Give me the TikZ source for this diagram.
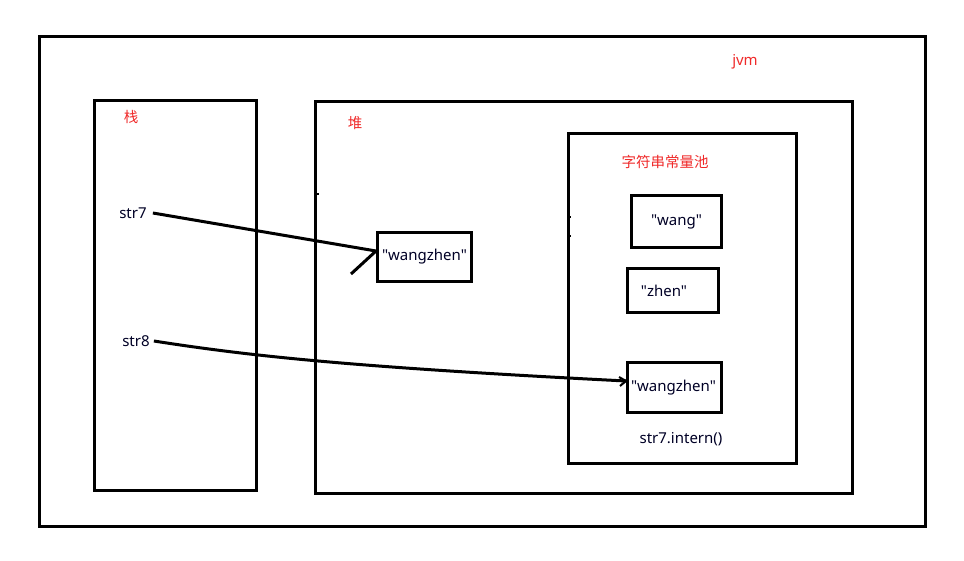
\documentclass[tikz,border=0pt]{standalone}
\usepackage{fontspec}
\setmainfont{Noto Sans CJK SC}
\newfontfamily\latinfont{Noto Sans}
\definecolor{lblred}{HTML}{F02A2A}
\begin{document}
\begin{tikzpicture}[x=1pt,y=-1pt,
  box/.style={draw=black,line width=3pt,fill=none},
  valbox/.style={draw=black,line width=3pt,inner sep=0pt,anchor=north west},
  redlbl/.style={text=lblred,font=\fontsize{14.5}{16}\selectfont,inner sep=0pt},
  txt/.style={text=black!85!blue,font=\latinfont\fontsize{15}{17}\selectfont,inner sep=0pt},
  wire/.style={line width=3pt,draw=black},
  tick/.style={line width=2.5pt,draw=black}]
\useasboundingbox (0,0) rectangle (964,561);
\fill[white] (0,0) rectangle (964,561);
% containers
\draw[box] (39,37) rectangle (925,526);
\node[redlbl,font=\latinfont\fontsize{15}{17}\selectfont] (jvm) at (745,62) {jvm};
\draw[box] (94,101) rectangle (256,490);
\node[redlbl] (stack) at (131,117) {栈};
\draw[box] (315,102) rectangle (852,493);
\node[redlbl] (heap) at (355,123) {堆};
\draw[box] (568,134) rectangle (796,463);
\node[redlbl] (pool) at (665,162) {字符串常量池};
% value boxes
\node[valbox,minimum width=90pt,minimum height=52pt] (wang) at (630,194) {};
\node[txt] at (wang.center) {\symbol{34}wang\symbol{34}};
\node[valbox,minimum width=91pt,minimum height=44pt] (zhen) at (626,267) {};
\node[txt] at ([xshift=-9pt]zhen.center) {\symbol{34}zhen\symbol{34}};
\node[valbox,minimum width=94pt,minimum height=50pt] (pwz) at (626,361) {};
\node[txt] at ([xshift=-1pt]pwz.center) {\symbol{34}wangzhen\symbol{34}};
\node[valbox,minimum width=94pt,minimum height=49pt] (hwz) at (376,231) {};
\node[txt] at (hwz.center) {\symbol{34}wangzhen\symbol{34}};
\node[txt] (intern) at (681,439) {str7.intern()};
% variables
\node[txt] (s7) at (133,213) {str7};
\node[txt] (s8) at (136,341) {str8};
% connectors
\coordinate (s7end) at (hwz.west |- 0,251);
\draw[wire] ([xshift=6pt]s7.east) -- (s7end);
\draw[wire] (s7end) -- ++(-25,23);
\coordinate (s8end) at (pwz.west |- 0,381);
\draw[wire] ([xshift=4pt]s8.east) .. controls (250,356) and (350,367) .. (s8end);
\draw[line width=2pt] (s8end) -- ++(-7,-4) (s8end) -- ++(-6,5);
% stray ticks
\draw[tick] (256,186) -- (258,186);
\draw[tick] (256,243) -- (258,243);
\draw[tick] (315,194) -- (319,194);
\draw[tick] (568,217) -- (571,217);
\draw[tick] (568,236) -- (571,236);
\draw[tick] (568,335) -- (570,335);
\end{tikzpicture}
\end{document}
